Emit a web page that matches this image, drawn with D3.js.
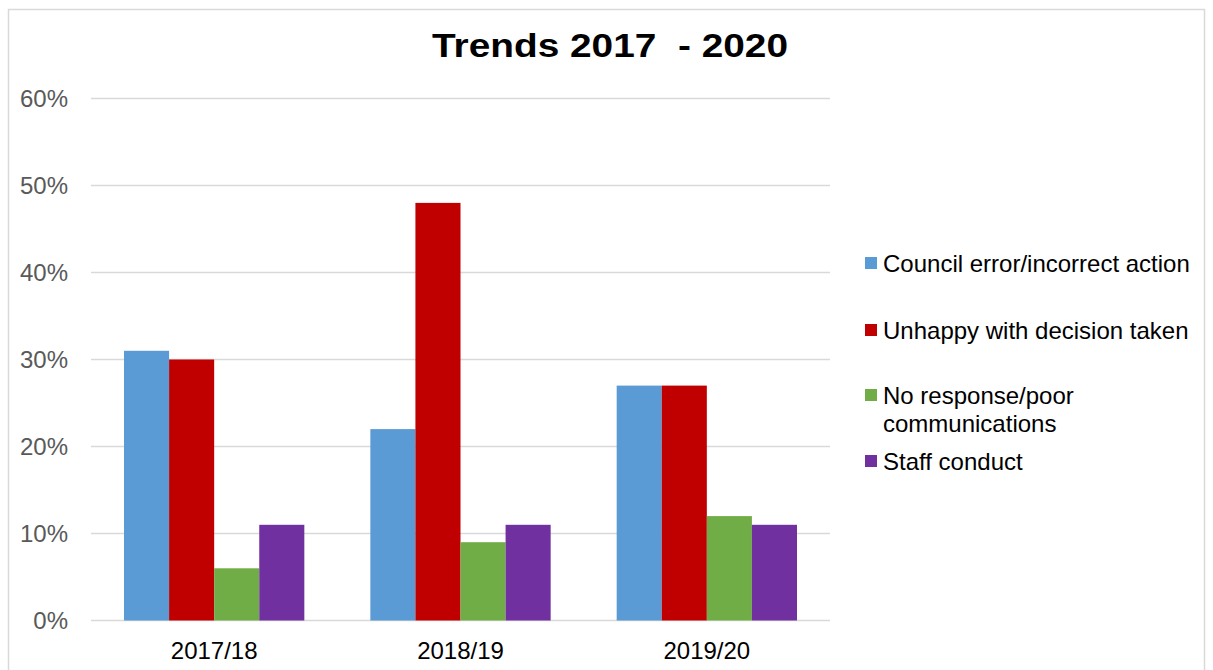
<!DOCTYPE html>
<html>
<head>
<meta charset="utf-8">
<script src="https://cdn.jsdelivr.net/npm/d3@7"></script>
<style>
  body { margin: 0; background: #fff; }
  svg text { font-family: "Liberation Sans", Arial, sans-serif; }
</style>
</head>
<body>
<div id="chart"></div>
<script>
// Data
const years = ['2017/18', '2018/19', '2019/20'];
const seriesNames = ['Council error/incorrect action', 'Unhappy with decision taken', 'No response/poor communications', 'Staff conduct'];
const councilError = [31, 22, 27];
const unhappyDecision = [30, 48, 27];
const noResponse = [6, 9, 12];
const staffConduct = [11, 11, 11];
const yTicks = [0, 10, 20, 30, 40, 50, 60];
const colors = ['#5B9BD5', '#C00000', '#70AD47', '#7030A0'];

const allSeries = [councilError, unhappyDecision, noResponse, staffConduct];

const width = 1213, height = 670;
const margin = { top: 98.5, right: 383, bottom: 49.5, left: 91 };
const innerW = width - margin.left - margin.right,
    innerH = height - margin.top - margin.bottom;

const svg = d3.select('#chart')
    .append('svg')
    .attr('width', width)
    .attr('height', height);

// outer frame
svg.append('rect')
    .attr('x', 8.5).attr('y', 9.5)
    .attr('width', 1196).attr('height', 670)
    .attr('fill', 'none')
    .attr('stroke', '#d9d9d9')
    .attr('stroke-width', 1.5);

svg.append('text')
    .attr('x', 432)
    .attr('y', 57)
    .attr('xml:space', 'preserve')
    .attr('textLength', 356)
    .attr('lengthAdjust', 'spacingAndGlyphs')
    .style('font-size', '33px')
    .style('font-weight', 'bold')
    .style('white-space', 'pre')
    .attr('fill', '#000')
    .text('Trends 2017  - 2020');

const g = svg.append('g')
    .attr('transform', `translate(${margin.left},${margin.top})`);

const x0 = d3.scaleBand().domain(years).range([0, innerW]).paddingInner(0.268).paddingOuter(0.134);
const x1 = d3.scaleBand().domain(d3.range(seriesNames.length)).range([0, x0.bandwidth()]);
const y = d3.scaleLinear().domain([0, 60]).range([innerH, 0]);

// gridlines
g.append('g')
    .selectAll('line')
    .data(yTicks)
    .enter()
    .append('line')
    .attr('x1', 0)
    .attr('x2', innerW)
    .attr('y1', d => y(d))
    .attr('y2', d => y(d))
    .attr('stroke', '#d9d9d9')
    .attr('stroke-width', 1.5);

// y axis labels
const yAxis = g.append('g')
    .call(d3.axisLeft(y).tickValues(yTicks).tickFormat(d => d + '%').tickSize(0).tickPadding(23));
yAxis.select('.domain').remove();
yAxis.selectAll('text')
    .style('font-size', '24px')
    .attr('fill', '#595959');

// bars
const groups = g.selectAll('.year')
    .data(years)
    .enter()
    .append('g')
    .attr('class', 'year')
    .attr('transform', d => `translate(${x0(d)},0)`);

groups.selectAll('rect')
    .data((d, i) => allSeries.map((s, k) => ({ k, value: s[i] })))
    .enter()
    .append('rect')
    .attr('x', d => x1(d.k))
    .attr('y', d => y(d.value))
    .attr('width', x1.bandwidth())
    .attr('height', d => innerH - y(d.value))
    .attr('fill', d => colors[d.k]);

// x axis labels
const xAxis = g.append('g')
    .attr('transform', `translate(0,${innerH})`)
    .call(d3.axisBottom(x0).tickSize(0).tickPadding(21));
xAxis.select('.domain').remove();
xAxis.selectAll('text')
    .style('font-size', '24px')
    .attr('fill', '#000');

// legend
const legendRows = [
    { lines: ['Council error/incorrect action'], y: 263 },
    { lines: ['Unhappy with decision taken'], y: 330 },
    { lines: ['No response/poor', 'communications'], y: 395 },
    { lines: ['Staff conduct'], y: 461 }
];

const legend = svg.append('g');
legendRows.forEach((row, i) => {
    legend.append('rect')
        .attr('x', 865)
        .attr('y', row.y - 6)
        .attr('width', 12)
        .attr('height', 12)
        .attr('fill', colors[i]);
    const t = legend.append('text')
        .attr('x', 883)
        .attr('y', row.y + 8.5)
        .style('font-size', '24px')
        .attr('fill', '#000');
    row.lines.forEach((line, j) => {
        t.append('tspan')
            .attr('x', 883)
            .attr('dy', j === 0 ? 0 : 28)
            .text(line);
    });
});
</script>
</body>
</html>
